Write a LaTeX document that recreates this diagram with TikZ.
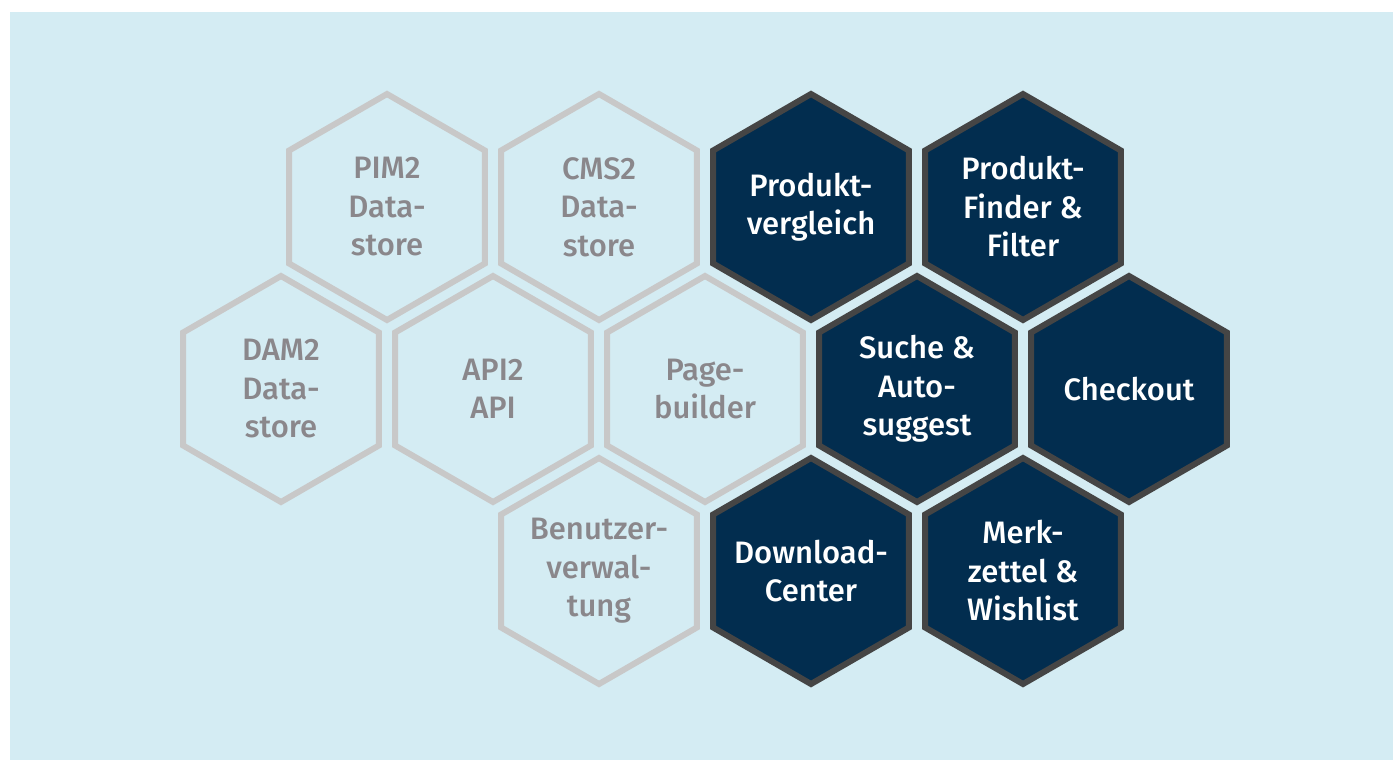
\documentclass[tikz,border=0pt]{standalone}
\usepackage{fontspec}
\setmainfont{Fira Sans}[UprightFont=* Medium]
\usepackage{xcolor}
\usepackage{tikz}
\usetikzlibrary{shapes.geometric}

\definecolor{bgblue}{HTML}{D4ECF3}
\definecolor{hexgray}{HTML}{C8C8C8}
\definecolor{txtgray}{HTML}{8A878B}
\definecolor{hexnavy}{HTML}{022D4F}
\definecolor{hexedge}{HTML}{454545}

\begin{document}
\begin{tikzpicture}[x=1pt, y=-1pt, node distance=212pt,
    hexa/.style = {regular polygon, regular polygon sides=6,
                   shape border rotate=30, minimum size=226pt,
                   inner sep=-30pt, line width=6pt, align=center,
                   font=\fontsize{31}{38.5}\selectfont},
    light/.style = {hexa, draw=hexgray, text=txtgray},
    dark/.style = {hexa, draw=hexedge, fill=hexnavy, text=white}]
  \fill[white] (0,0) rectangle (1393,760);
  \fill[bgblue] (10,12) rectangle (1393,760);
  \useasboundingbox (0,0) rectangle (1393,760);

  \node (pim) [light] at (387,207) {PIM2\\Data-\\store};
  \node (cms) [light, right of=pim] {CMS2\\Data-\\store};
  \node (vergleich) [dark, right of=cms] {Produkt-\\vergleich};
  \node (finder) [dark, right of=vergleich] {Produkt-\\Finder \&\\Filter};

  \node (dam) [light] at (281,389) {DAM2\\Data-\\store};
  \node (api) [light, right of=dam] {API2\\API};
  \node (page) [light, right of=api] {Page-\\builder};
  \node (suche) [dark, right of=page] {Suche \&\\Auto-\\suggest};
  \node (checkout) [dark, right of=suche] {Checkout};

  \node (benutzer) [light] at (599,571) {Benutzer-\\verwal-\\tung};
  \node (download) [dark, right of=benutzer] {Download-\\Center};
  \node (merk) [dark, right of=download] {Merk-\\zettel \&\\Wishlist};
\end{tikzpicture}
\end{document}
